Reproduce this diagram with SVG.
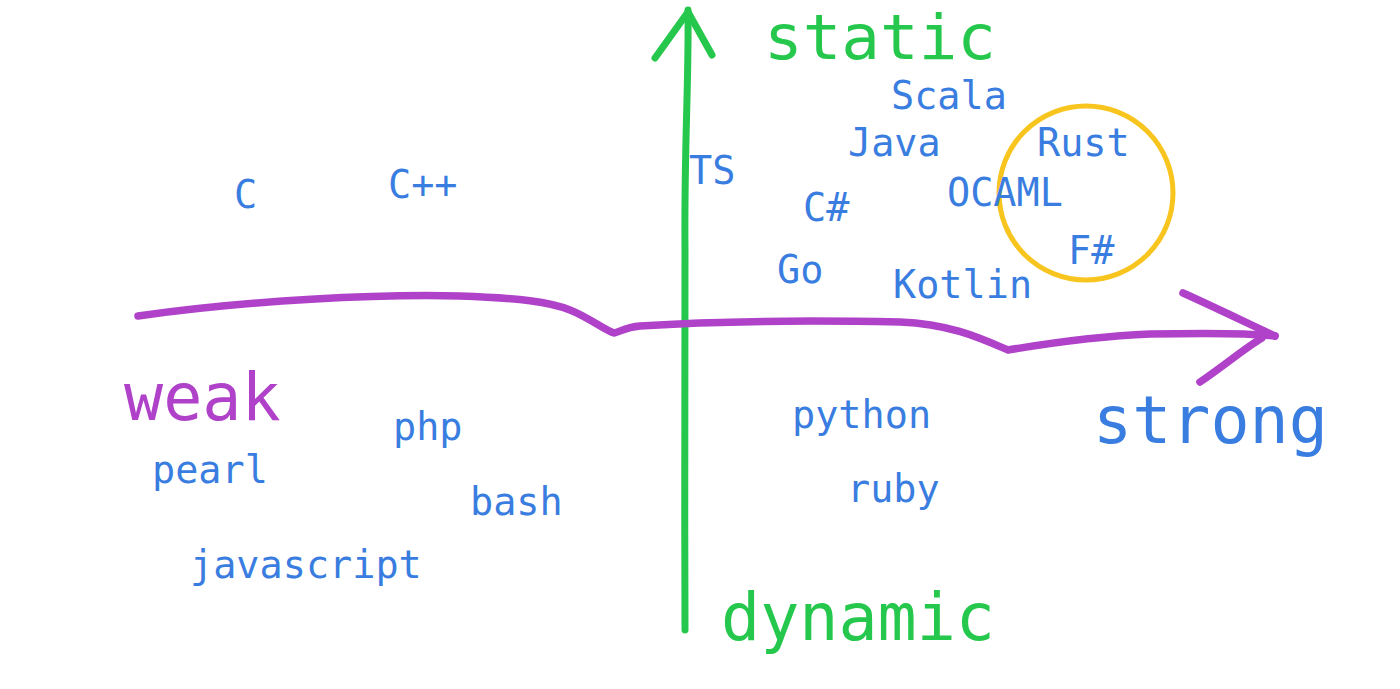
<svg xmlns="http://www.w3.org/2000/svg" width="1400" height="689" viewBox="0 0 1400 689">
<style>
text{font-family:"DejaVu Sans Mono","Liberation Mono",monospace;}
.lang{font-size:38.5px;fill:#3a7de0;}
.big{font-size:65px;}
.g{fill:#25c84c;}
.p{fill:#b042c9;}
.b{fill:#3a7de0;}
.stroke-g{fill:none;stroke:#25c84c;stroke-width:7;stroke-linecap:round;stroke-linejoin:round;}
.stroke-p{fill:none;stroke:#b042c9;stroke-width:7.5;stroke-linecap:round;stroke-linejoin:round;}
</style>
<rect width="1400" height="689" fill="#ffffff"/>
<g id="connectors">
<path class="stroke-g" d="M685,630 C684,500 686,350 685,250 C684,150 689,80 688,10"/>
<path class="stroke-g" d="M655,58 L688,12 L712,55"/>
<path class="stroke-p" d="M138,316 C250,300 380,294 460,296 C520,298 550,302 570,310 C590,318 604,330 614,333 C620,332 625,327 640,326 C700,322 800,320 900,322 C950,324 980,338 1008,350 C1050,343 1100,336 1150,334 C1200,333 1250,333 1275,336"/>
<path class="stroke-p" d="M1183,293 C1210,305 1245,322 1275,336" stroke-width="10"/>
<path class="stroke-p" d="M1200,382 C1225,365 1245,348 1262,338"/>
</g>
<g id="circle"><circle cx="1086" cy="193" r="87" fill="none" stroke="#f7c51e" stroke-width="5"/></g>
<g id="axis-static"><text class="g" style="font-size:62px" x="764" y="59" textLength="232" lengthAdjust="spacingAndGlyphs">static</text></g>
<g id="axis-dynamic"><text class="big g" x="721" y="640">dynamic</text></g>
<g id="axis-weak"><text class="big p" x="124" y="420">weak</text></g>
<g id="axis-strong"><text class="big b" x="1093" y="443">strong</text></g>
<g id="n-scala"><text class="lang" x="891" y="109">Scala</text></g>
<g id="n-java"><text class="lang" x="848" y="156">Java</text></g>
<g id="n-rust"><text class="lang" x="1037" y="156">Rust</text></g>
<g id="n-ts"><text class="lang" x="689" y="184">TS</text></g>
<g id="n-cpp"><text class="lang" x="388" y="198">C++</text></g>
<g id="n-c"><text class="lang" x="234" y="208">C</text></g>
<g id="n-ocaml"><text class="lang" x="947" y="206">OCAML</text></g>
<g id="n-csharp"><text class="lang" x="803" y="221">C#</text></g>
<g id="n-go"><text class="lang" x="777" y="283">Go</text></g>
<g id="n-kotlin"><text class="lang" x="893" y="298">Kotlin</text></g>
<g id="n-fsharp"><text class="lang" x="1068" y="264">F#</text></g>
<g id="n-php"><text class="lang" x="393" y="440">php</text></g>
<g id="n-pearl"><text class="lang" x="152" y="483">pearl</text></g>
<g id="n-bash"><text class="lang" x="470" y="515">bash</text></g>
<g id="n-javascript"><text class="lang" x="190" y="578">javascript</text></g>
<g id="n-python"><text class="lang" x="792" y="428">python</text></g>
<g id="n-ruby"><text class="lang" x="847" y="502">ruby</text></g>
</svg>
